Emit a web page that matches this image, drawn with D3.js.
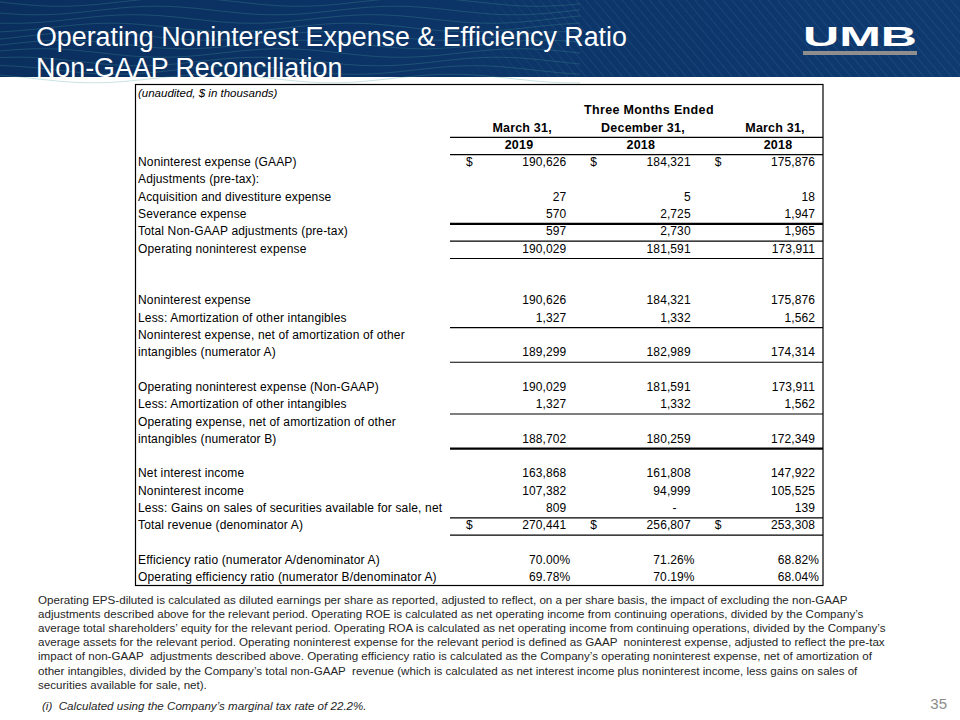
<!DOCTYPE html>
<html>
<head>
<meta charset="utf-8">
<script src="https://cdn.jsdelivr.net/npm/d3@7"></script>
<style>
  html, body { margin: 0; padding: 0; background: #ffffff; }
  svg { display: block; }
  text { font-family: Arial, "Liberation Sans", sans-serif; }
</style>
</head>
<body>
<script>
// ---------------- DATA ----------------
const titleLines = ["Operating Noninterest Expense & Efficiency Ratio", "Non-GAAP Reconciliation"];
const unitsNote = "(unaudited, $ in thousands)";
const periodHeader = "Three Months Ended";
const periodMonths = ["March 31,", "December 31,", "March 31,"];
const periodYears = ["2019", "2018", "2018"];

const rowLabels = [
  "Noninterest expense (GAAP)",
  "Adjustments (pre-tax):",
  "Acquisition and divestiture expense",
  "Severance expense",
  "Total Non-GAAP adjustments (pre-tax)",
  "Operating noninterest expense",
  "",
  "",
  "Noninterest expense",
  "Less: Amortization of other intangibles",
  "Noninterest expense, net of amortization of other",
  "intangibles (numerator A)",
  "",
  "Operating noninterest expense (Non-GAAP)",
  "Less: Amortization of other intangibles",
  "Operating expense, net of amortization of other",
  "intangibles (numerator B)",
  "",
  "Net interest income",
  "Noninterest income",
  "Less: Gains on sales of securities available for sale, net",
  "Total revenue (denominator A)",
  "",
  "Efficiency ratio (numerator A/denominator A)",
  "Operating efficiency ratio (numerator B/denominator A)"
];
const valuesMar2019 = [190626, null, 27, 570, 597, 190029, null, null, 190626, 1327, null, 189299, null, 190029, 1327, null, 188702, null, 163868, 107382, 809, 270441, null, 70.00, 69.78];
const valuesDec2018 = [184321, null, 5, 2725, 2730, 181591, null, null, 184321, 1332, null, 182989, null, 181591, 1332, null, 180259, null, 161808, 94999, 0, 256807, null, 71.26, 70.19];
const valuesMar2018 = [175876, null, 18, 1947, 1965, 173911, null, null, 175876, 1562, null, 174314, null, 173911, 1562, null, 172349, null, 147922, 105525, 139, 253308, null, 68.82, 68.04];
const percentRows = [23, 24];
const dollarRows = [0, 21];
// rule under row index, weight
const ruleRows = [-2, -1, 3, 4, 5, 9, 11, 14, 16, 20, 21];
const ruleWeights = [1, 1, 2, 1, 1, 1, 1, 1, 2, 1, 1];

const footnoteLines = [
  "Operating EPS-diluted is calculated as diluted earnings per share as reported, adjusted to reflect, on a per share basis, the impact of excluding the non-GAAP",
  "adjustments described above for the relevant period. Operating ROE is calculated as net operating income from continuing operations, divided by the Company\u2019s",
  "average total shareholders\u2019 equity for the relevant period. Operating ROA is calculated as net operating income from continuing operations, divided by the Company\u2019s",
  "average assets for the relevant period. Operating noninterest expense for the relevant period is defined as GAAP  noninterest expense, adjusted to reflect the pre-tax",
  "impact of non-GAAP  adjustments described above. Operating efficiency ratio is calculated as the Company\u2019s operating noninterest expense, net of amortization of",
  "other intangibles, divided by the Company\u2019s total non-GAAP  revenue (which is calculated as net interest income plus noninterest income, less gains on sales of",
  "securities available for sale, net)."
];
const taxNote = "(i)  Calculated using the Company\u2019s marginal tax rate of 22.2%.";
const pageNumber = "35";

// ---------------- DRAW ----------------
const W = 960, H = 720;
const svg = d3.select("body").append("svg").attr("width", W).attr("height", H);
svg.append("rect").attr("width", W).attr("height", H).attr("fill", "#ffffff");

// Header band
const defs = svg.append("defs");
const grad = defs.append("linearGradient").attr("id", "hdrGrad").attr("x1", "0").attr("x2", "1").attr("y1", "0").attr("y2", "0");
grad.append("stop").attr("offset", "0").attr("stop-color", "#0a2f5f");
grad.append("stop").attr("offset", "1").attr("stop-color", "#0e3a70");
const pat = defs.append("pattern").attr("id", "diag").attr("patternUnits", "userSpaceOnUse")
  .attr("width", 7).attr("height", 7).attr("patternTransform", "rotate(-40)");
pat.append("line").attr("x1", 0).attr("y1", 0).attr("x2", 0).attr("y2", 7)
  .attr("stroke", "#5b86b8").attr("stroke-width", 0.8).attr("stroke-opacity", 0.45);
const fadeMask = defs.append("linearGradient").attr("id", "fadeGrad").attr("x1", "0").attr("x2", "1");
fadeMask.append("stop").attr("offset", "0").attr("stop-color", "#fff").attr("stop-opacity", 0);
fadeMask.append("stop").attr("offset", "0.45").attr("stop-color", "#fff").attr("stop-opacity", 0);
fadeMask.append("stop").attr("offset", "0.6").attr("stop-color", "#fff").attr("stop-opacity", 1);
fadeMask.append("stop").attr("offset", "1").attr("stop-color", "#fff").attr("stop-opacity", 1);
defs.append("mask").attr("id", "diagMask").append("rect").attr("width", W).attr("height", 77).attr("fill", "url(#fadeGrad)");

const header = svg.append("g");
header.append("rect").attr("x", 0).attr("y", 0).attr("width", W).attr("height", 77).attr("fill", "url(#hdrGrad)");
header.append("rect").attr("x", 0).attr("y", 0).attr("width", W).attr("height", 77).attr("fill", "url(#diag)").attr("mask", "url(#diagMask)");
// decorative waves on the left of the header
const waveLine = d3.line().curve(d3.curveBasis);
d3.range(10).forEach(k => {
  const pts = d3.range(0, 581, 20).map(x => [x, 2 + k * 8.5 + 4.5 * Math.sin(x / 38 + k * 0.6)]);
  header.append("path").attr("d", waveLine(pts)).attr("fill", "none")
    .attr("stroke", "#4a9a96").attr("stroke-width", 0.7)
    .attr("stroke-opacity", 0.42);
});

header.selectAll("text.title").data(titleLines).join("text")
  .attr("class", "title")
  .attr("x", 36).attr("y", (d, i) => 45.5 + i * 31.5)
  .attr("fill", "#ffffff").attr("font-size", 26.8).text(d => d);

// UMB logo
header.append("text").attr("x", 803).attr("y", 46)
  .attr("font-family", "'DejaVu Sans', sans-serif").attr("font-weight", "bold")
  .attr("font-size", 28.5).attr("fill", "#ffffff")
  .attr("textLength", 114).attr("lengthAdjust", "spacingAndGlyphs").text("UMB");
header.append("rect").attr("x", 803).attr("y", 51).attr("width", 114).attr("height", 4).attr("fill", "#8e8e8e");

// ---------------- TABLE ----------------
const rowKeys = d3.range(-4, rowLabels.length);
const y = d3.scaleBand().domain(rowKeys).range([84, 585.5]);
const bw = y.bandwidth();
const base = r => y(r) + bw / 2 + 4.3;

const cols = [0, 1, 2];
const x = d3.scaleBand().domain(cols).range([450, 823]);
const valueRight = c => x(c) + x.bandwidth() - 8;
const dollarLeft = c => x(c) + 16;
const monthPos = [0.58, 0.552, 0.614];
const yearPos = [0.555, 0.535, 0.638];

const series = [valuesMar2019, valuesDec2018, valuesMar2018];
const fmtNum = d3.format(",");
const fmtPct = d3.format(".2f");

const table = svg.append("g").attr("fill", "#000");

table.append("rect").attr("x", 135.5).attr("y", 84.5).attr("width", 687.5).attr("height", 501)
  .attr("fill", "none").attr("stroke", "#000").attr("stroke-width", 1.2);

table.append("text").attr("x", 138).attr("y", base(-4)).attr("font-size", 11.5)
  .attr("font-style", "italic").text(unitsNote);

table.append("text").attr("x", x(1) + x.bandwidth() * 0.6).attr("y", base(-3))
  .attr("text-anchor", "middle").attr("font-size", 12.5).attr("font-weight", "bold")
  .attr("letter-spacing", 0.35).text(periodHeader);
table.selectAll("text.month").data(periodMonths).join("text").attr("class", "month")
  .attr("x", (d, i) => x(i) + x.bandwidth() * monthPos[i]).attr("y", base(-2)).attr("text-anchor", "middle")
  .attr("font-size", 12.5).attr("font-weight", "bold").attr("letter-spacing", 0.2).text(d => d);
table.selectAll("text.year").data(periodYears).join("text").attr("class", "year")
  .attr("x", (d, i) => x(i) + x.bandwidth() * yearPos[i]).attr("y", base(-1)).attr("text-anchor", "middle")
  .attr("font-size", 12.5).attr("font-weight", "bold").attr("letter-spacing", 0.2).text(d => d);

// rules
table.selectAll("line.rule").data(ruleRows).join("line").attr("class", "rule")
  .attr("x1", x(0)).attr("x2", 823)
  .attr("y1", d => y(d) + bw + 1.5)
  .attr("y2", d => y(d) + bw + 1.5)
  .attr("stroke", "#000").attr("stroke-width", (d, i) => ruleWeights[i] > 1 ? 2.4 : 1.1);

// labels
table.selectAll("text.label").data(rowLabels.map((d, i) => ({ d, i })).filter(o => o.d !== ""))
  .join("text").attr("class", "label")
  .attr("x", 138).attr("y", o => base(o.i)).attr("font-size", 12).attr("letter-spacing", 0.15)
  .text(o => o.d);

// values
cols.forEach(c => {
  const cells = series[c].map((v, i) => ({ v, i })).filter(o => o.v !== null);
  table.selectAll("text.val" + c).data(cells).join("text").attr("class", "val" + c)
    .attr("x", o => percentRows.includes(o.i) ? valueRight(c) + 4 : (o.v === 0 ? valueRight(c) - 14 : valueRight(c)))
    .attr("y", o => base(o.i)).attr("text-anchor", "end").attr("font-size", 12).attr("letter-spacing", 0.1)
    .text(o => percentRows.includes(o.i) ? fmtPct(o.v) + "%" : (o.v === 0 ? "-" : fmtNum(o.v)));
  table.selectAll("text.dol" + c).data(dollarRows).join("text").attr("class", "dol" + c)
    .attr("x", dollarLeft(c)).attr("y", r => base(r)).attr("font-size", 12).text("$");
});

// ---------------- FOOTNOTES ----------------
svg.selectAll("text.foot").data(footnoteLines).join("text").attr("class", "foot")
  .attr("x", 38).attr("y", (d, i) => 604 + i * 14.1).attr("font-size", 11.6).attr("fill", "#262626")
  .attr("style", "white-space: pre").text(d => d);
svg.append("text").attr("x", 42).attr("y", 710).attr("font-size", 11.6).attr("font-style", "italic")
  .attr("fill", "#262626").attr("style", "white-space: pre").text(taxNote);
svg.append("text").attr("x", 947).attr("y", 709).attr("text-anchor", "end").attr("font-size", 15)
  .attr("fill", "#8c8c8c").text(pageNumber);
</script>
</body>
</html>
